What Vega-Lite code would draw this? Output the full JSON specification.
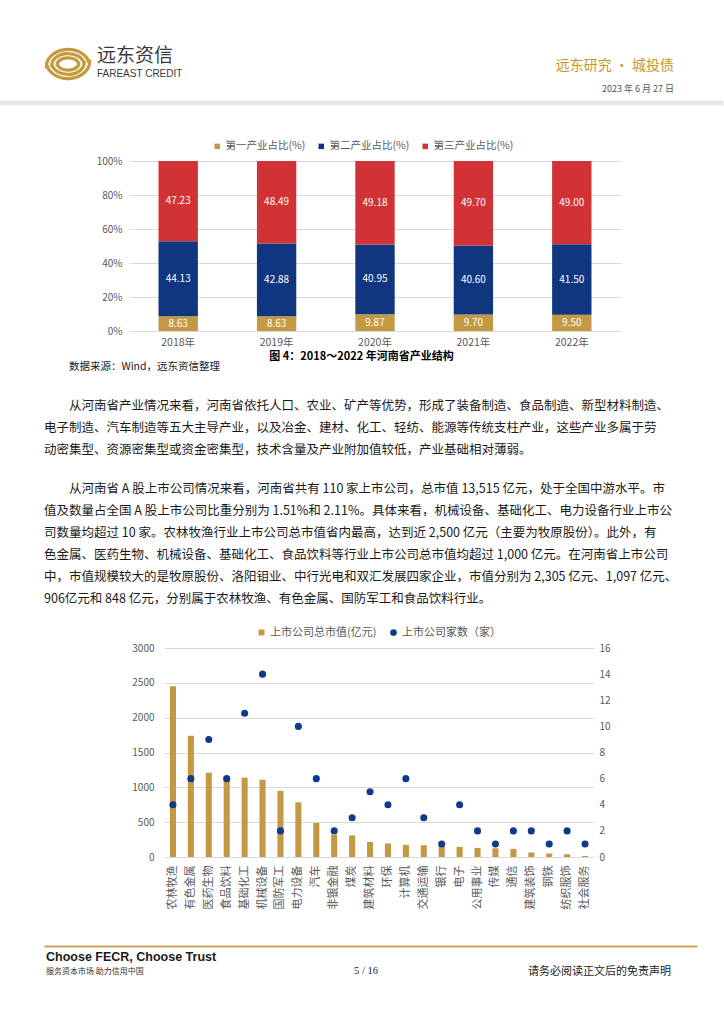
{
  "$schema": "https://vega.github.io/schema/vega-lite/v6.json",
  "padding": {"left": 40, "top": 0, "right": 0, "bottom": 0},
  "background": "white",
  "bounds": "flush",
  "spacing": 0,
  "resolve": {"scale": {"color": "independent"}, "legend": {"color": "independent"}},
  "config": {
    "view": {"stroke": null},
    "font": "Noto Sans CJK SC",
    "title": {"frame": "group", "fontWeight": "normal"}
  },
  "vconcat": [
    {
      "width": 630,
      "height": 46,
      "data": {"values": []},
      "mark": "point",
      "encoding": {},
      "title": {
        "text": "远东研究 • 城投债",
        "subtitle": "2023 年 6 月 27 日",
        "orient": "bottom",
        "anchor": "end",
        "frame": "group",
        "offset": 13,
        "fontSize": 14,
        "color": "#C8961E",
        "subtitleFontSize": 9,
        "subtitleColor": "#555555",
        "subtitlePadding": 12,
        "subtitleFont": "Noto Sans CJK SC"
      }
    },
    {
      "width": 48,
      "height": 36,
      "data": {"values": [{"brand": "远东资信"}]},
      "mark": {
        "type": "point",
        "shape": "M -0.95 0.2 A 0.95 0.74 0 0 1 0.95 0 M -0.72 0.12 A 0.72 0.52 0 0 1 0.72 0 M -0.48 0.06 A 0.48 0.3 0 0 1 0.48 0 M 0.95 -0.2 A 0.95 0.74 0 0 1 -0.95 0 M 0.72 -0.12 A 0.72 0.52 0 0 1 -0.72 0 M 0.48 -0.06 A 0.48 0.3 0 0 1 -0.48 0",
        "size": 2025,
        "filled": false,
        "stroke": "#C49A3C",
        "strokeWidth": 3.2,
        "opacity": 1
      },
      "encoding": {}
    },
    {
      "width": 630,
      "height": 79,
      "data": {"values": []},
      "mark": "point",
      "encoding": {
        "x": {
          "field": "p",
          "type": "quantitative",
          "scale": {"domain": [0, 1], "range": [-45, 679]},
          "axis": {
            "orient": "top",
            "offset": -20.5,
            "domainColor": "#E6E8E8",
            "domainWidth": 5,
            "ticks": false,
            "labels": false,
            "grid": false,
            "title": null
          }
        }
      },
      "title": {
        "text": "远东资信",
        "subtitle": "FAREAST CREDIT",
        "orient": "top",
        "anchor": "start",
        "frame": "group",
        "dx": 53,
        "offset": 3,
        "fontSize": 19,
        "color": "#3A3A3A",
        "subtitleFontSize": 10,
        "subtitleColor": "#3A3A3A",
        "subtitleFont": "Liberation Sans",
        "subtitlePadding": 3
      }
    },
    {
      "width": 577,
      "height": 170,
      "data": {
        "values": [
          {"year": "2018年", "type": "第一产业占比(%)", "k": 1, "value": 8.63},
          {"year": "2018年", "type": "第二产业占比(%)", "k": 2, "value": 44.13},
          {"year": "2018年", "type": "第三产业占比(%)", "k": 3, "value": 47.23},
          {"year": "2019年", "type": "第一产业占比(%)", "k": 1, "value": 8.63},
          {"year": "2019年", "type": "第二产业占比(%)", "k": 2, "value": 42.88},
          {"year": "2019年", "type": "第三产业占比(%)", "k": 3, "value": 48.49},
          {"year": "2020年", "type": "第一产业占比(%)", "k": 1, "value": 9.87},
          {"year": "2020年", "type": "第二产业占比(%)", "k": 2, "value": 40.95},
          {"year": "2020年", "type": "第三产业占比(%)", "k": 3, "value": 49.18},
          {"year": "2021年", "type": "第一产业占比(%)", "k": 1, "value": 9.70},
          {"year": "2021年", "type": "第二产业占比(%)", "k": 2, "value": 40.60},
          {"year": "2021年", "type": "第三产业占比(%)", "k": 3, "value": 49.70},
          {"year": "2022年", "type": "第一产业占比(%)", "k": 1, "value": 9.50},
          {"year": "2022年", "type": "第二产业占比(%)", "k": 2, "value": 41.50},
          {"year": "2022年", "type": "第三产业占比(%)", "k": 3, "value": 49.00}
        ]
      },
      "encoding": {
        "x": {
          "field": "year",
          "type": "nominal",
          "sort": null,
          "scale": {"range": [85, 577], "paddingInner": 0.6, "paddingOuter": 0.3},
          "axis": {
            "labelAngle": 0,
            "labelFontSize": 10.5,
            "labelColor": "#595959",
            "labelPadding": 6,
            "ticks": false,
            "domain": false,
            "title": "图 4：2018～2022 年河南省产业结构",
            "titleFontSize": 11,
            "titleFontWeight": "bold",
            "titleColor": "#000000",
            "titlePadding": 3,
            "titleX": 317
          }
        }
      },
      "layer": [
        {
          "mark": {"type": "bar"},
          "encoding": {
            "y": {
              "field": "value",
              "type": "quantitative",
              "stack": "normalize",
              "axis": {
                "values": [0, 0.2, 0.4, 0.6, 0.8, 1],
                "format": ".0%",
                "offset": -85,
                "labelFontSize": 10,
                "labelColor": "#595959",
                "labelPadding": 7,
                "labelOverlap": false,
                "labelBound": false,
                "ticks": false,
                "tickSize": 0,
                "domain": false,
                "gridColor": "#D9D9D9",
                "title": null
              }
            },
            "color": {
              "field": "type",
              "type": "nominal",
              "scale": {
                "domain": ["第一产业占比(%)", "第二产业占比(%)", "第三产业占比(%)"],
                "range": ["#C39A43", "#103680", "#D03236"]
              },
              "legend": {
                "orient": "none",
                "legendX": 168,
                "legendY": -20,
                "direction": "horizontal",
                "title": null,
                "symbolType": "square",
                "symbolSize": 30,
                "labelFontSize": 10.5,
                "labelColor": "#595959",
                "labelOffset": 3,
                "columnPadding": 10
              }
            },
            "order": {"field": "k"}
          }
        },
        {
          "mark": {"type": "text", "color": "#FFFFFF", "fontSize": 10},
          "encoding": {
            "y": {
              "field": "value",
              "type": "quantitative",
              "stack": "normalize",
              "bandPosition": 0.5,
              "axis": {
                "values": [0, 0.2, 0.4, 0.6, 0.8, 1],
                "format": ".0%",
                "offset": -85,
                "labelFontSize": 10,
                "labelColor": "#595959",
                "labelPadding": 7,
                "labelOverlap": false,
                "labelBound": false,
                "ticks": false,
                "tickSize": 0,
                "domain": false,
                "gridColor": "#D9D9D9",
                "title": null
              }
            },
            "detail": {"field": "type"},
            "order": {"field": "k"},
            "text": {"field": "value", "type": "quantitative", "format": ".2f"}
          }
        }
      ],
      "title": {
        "text": "数据来源：Wind，远东资信整理",
        "orient": "bottom",
        "anchor": "start",
        "frame": "group",
        "dx": 25,
        "offset": 0,
        "fontSize": 10.5,
        "color": "#1A1A1A"
      }
    },
    {
      "width": 630,
      "height": 317,
      "data": {"values": []},
      "mark": "point",
      "encoding": {},
      "title": {
        "text": [
          "\u200b\u3000\u3000从河南省产业情况来看，河南省依托人口、农业、矿产等优势，形成了装备制造、食品制造、新型材料制造、",
          "电子制造、汽车制造等五大主导产业，以及冶金、建材、化工、轻纺、能源等传统支柱产业，这些产业多属于劳",
          "动密集型、资源密集型或资金密集型，技术含量及产业附加值较低，产业基础相对薄弱。"
        ],
        "subtitle": [
          "\u200b\u3000\u3000从河南省 A 股上市公司情况来看，河南省共有 110 家上市公司，总市值 13,515 亿元，处于全国中游水平。市",
          "值及数量占全国 A 股上市公司比重分别为 1.51%和 2.11%。具体来看，机械设备、基础化工、电力设备行业上市公",
          "司数量均超过 10 家。农林牧渔行业上市公司总市值省内最高，达到近 2,500 亿元（主要为牧原股份）。此外，有",
          "色金属、医药生物、机械设备、基础化工、食品饮料等行业上市公司总市值均超过 1,000 亿元。在河南省上市公司",
          "中，市值规模较大的是牧原股份、洛阳钼业、中行光电和双汇发展四家企业，市值分别为 2,305 亿元、1,097 亿元、",
          "906亿元和 848 亿元，分别属于农林牧渔、有色金属、国防军工和食品饮料行业。"
        ],
        "orient": "bottom",
        "anchor": "start",
        "frame": "group",
        "offset": -248,
        "fontSize": 12.5,
        "color": "#1A1A1A",
        "lineHeight": 22,
        "subtitleFontSize": 12.5,
        "subtitleColor": "#1A1A1A",
        "subtitleLineHeight": 22,
        "subtitlePadding": 26,
        "subtitleFont": "Noto Sans CJK SC"
      }
    },
    {
      "width": 550,
      "height": 209,
      "data": {
        "values": [
          {"industry": "农林牧渔", "value": 2450, "count": 4},
          {"industry": "有色金属", "value": 1740, "count": 6},
          {"industry": "医药生物", "value": 1210, "count": 9},
          {"industry": "食品饮料", "value": 1150, "count": 6},
          {"industry": "基础化工", "value": 1140, "count": 11},
          {"industry": "机械设备", "value": 1110, "count": 14},
          {"industry": "国防军工", "value": 950, "count": 2},
          {"industry": "电力设备", "value": 785, "count": 10},
          {"industry": "汽车", "value": 490, "count": 6},
          {"industry": "非银金融", "value": 320, "count": 2},
          {"industry": "煤炭", "value": 310, "count": 3},
          {"industry": "建筑材料", "value": 215, "count": 5},
          {"industry": "环保", "value": 195, "count": 4},
          {"industry": "计算机", "value": 175, "count": 6},
          {"industry": "交通运输", "value": 170, "count": 3},
          {"industry": "银行", "value": 160, "count": 1},
          {"industry": "电子", "value": 145, "count": 4},
          {"industry": "公用事业", "value": 130, "count": 2},
          {"industry": "传媒", "value": 125, "count": 1},
          {"industry": "通信", "value": 115, "count": 2},
          {"industry": "建筑装饰", "value": 65, "count": 2},
          {"industry": "钢铁", "value": 50, "count": 1},
          {"industry": "纺织服饰", "value": 40, "count": 2},
          {"industry": "社会服务", "value": 15, "count": 1}
        ]
      },
      "encoding": {
        "x": {
          "field": "industry",
          "type": "nominal",
          "sort": null,
          "scale": {"range": [120, 550], "paddingInner": 0.66, "paddingOuter": 0.33},
          "axis": {
            "labelAngle": -90,
            "labelFontSize": 11,
            "labelColor": "#595959",
            "labelPadding": 8,
            "ticks": false,
            "domain": false,
            "title": null
          }
        }
      },
      "layer": [
        {
          "mark": {"type": "bar", "color": "#C39A43"},
          "encoding": {
            "y": {
              "field": "value",
              "type": "quantitative",
              "scale": {"domain": [0, 3000]},
              "axis": {
                "values": [0, 500, 1000, 1500, 2000, 2500, 3000],
                "format": "d",
                "offset": -120,
                "labelFontSize": 10,
                "labelColor": "#595959",
                "labelPadding": 10,
                "labelOverlap": false,
                "ticks": false,
                "tickSize": 0,
                "domain": false,
                "gridColor": "#D9D9D9",
                "title": null
              }
            },
            "color": {
              "datum": "上市公司总市值(亿元)",
              "type": "nominal",
              "scale": {"range": ["#C39A43"]},
              "legend": {
                "orient": "none",
                "legendX": 212,
                "legendY": -21,
                "title": null,
                "symbolType": "square",
                "symbolSize": 36,
                "labelFontSize": 11,
                "labelColor": "#595959",
                "labelOffset": 3
              }
            }
          }
        },
        {
          "mark": {"type": "point", "filled": true, "size": 50, "opacity": 1},
          "encoding": {
            "y": {
              "field": "count",
              "type": "quantitative",
              "scale": {"domain": [0, 16]},
              "axis": {
                "orient": "right",
                "values": [0, 2, 4, 6, 8, 10, 12, 14, 16],
                "labelFontSize": 10,
                "labelColor": "#595959",
                "labelPadding": 5,
                "labelOverlap": false,
                "ticks": false,
                "tickSize": 0,
                "domain": false,
                "grid": false,
                "title": null
              }
            },
            "color": {
              "datum": "上市公司家数（家）",
              "type": "nominal",
              "scale": {"range": ["#103A87"]},
              "legend": {
                "orient": "none",
                "legendX": 344,
                "legendY": -21,
                "title": null,
                "symbolType": "circle",
                "symbolSize": 45,
                "labelFontSize": 11,
                "labelColor": "#595959",
                "labelOffset": 3
              }
            }
          }
        }
      ],
      "resolve": {"scale": {"y": "independent", "color": "independent"}}
    },
    {
      "width": 653,
      "height": 89,
      "data": {"values": []},
      "mark": "point",
      "encoding": {
        "x": {
          "field": "p",
          "type": "quantitative",
          "scale": {"domain": [0, 1]},
          "axis": {
            "orient": "bottom",
            "domainColor": "#C9A355",
            "domainWidth": 2,
            "ticks": false,
            "labels": false,
            "grid": false,
            "title": null
          }
        }
      },
      "title": {
        "text": "Choose FECR, Choose Trust",
        "subtitle": "服务资本市场  助力信用中国",
        "orient": "bottom",
        "anchor": "start",
        "frame": "group",
        "dx": 2,
        "offset": 5,
        "font": "Liberation Sans",
        "fontSize": 12.5,
        "fontWeight": "bold",
        "color": "#1A1A1A",
        "subtitleFont": "Noto Sans CJK SC",
        "subtitleFontSize": 8,
        "subtitleColor": "#333333",
        "subtitlePadding": 4
      }
    },
    {
      "width": 644,
      "height": 1,
      "data": {"values": []},
      "mark": "point",
      "encoding": {},
      "title": {
        "text": "5 / 16",
        "orient": "bottom",
        "anchor": "middle",
        "frame": "group",
        "offset": 19,
        "font": "Liberation Serif",
        "fontSize": 10.5,
        "color": "#1A1A1A"
      }
    },
    {
      "width": 627,
      "height": 1,
      "data": {"values": []},
      "mark": "point",
      "encoding": {},
      "title": {
        "text": "请务必阅读正文后的免责声明",
        "orient": "bottom",
        "anchor": "end",
        "frame": "group",
        "offset": 18,
        "fontSize": 11,
        "color": "#1A1A1A"
      }
    }
  ]
}
